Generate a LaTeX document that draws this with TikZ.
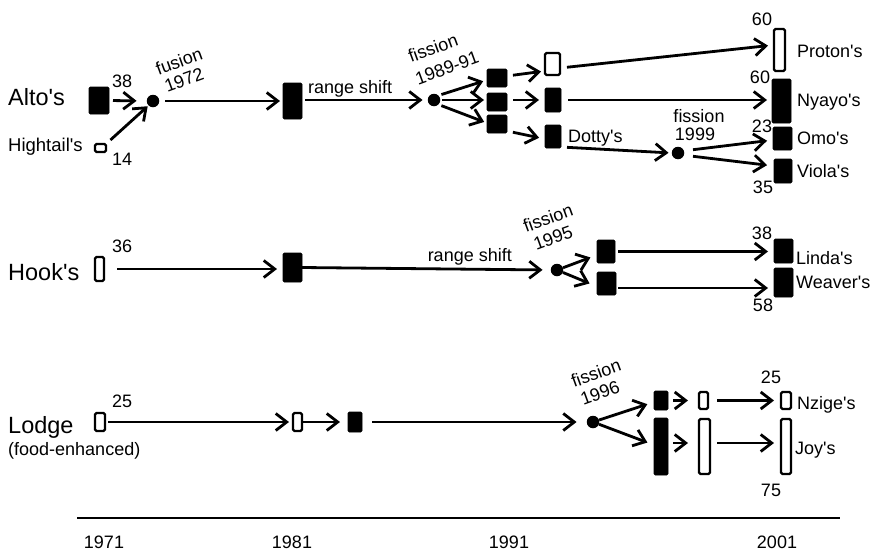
\documentclass[tikz,border=0pt]{standalone}
\usepackage{fontspec}
\setmainfont{Liberation Sans}[Ligatures=TeXOff]
\usetikzlibrary{arrows.meta,calc}
\begin{document}
\begin{tikzpicture}[x=1pt,y=-1pt,
  blk/.style={draw=black,fill=black,line width=0.6pt,rounded corners=1.2pt,inner sep=0pt,outer sep=0pt},
  opn/.style={draw=black,fill=white,line width=2.2pt,rounded corners=1.5pt,inner sep=0pt,outer sep=0pt},
  dotn/.style={circle,fill=black,inner sep=0pt,minimum size=12.5pt},
  arr/.style={-{Straight Barb[length=11pt,width=17pt]},line width=2.8pt},
  big/.style={font=\fontsize{23.5}{26}\selectfont,inner sep=0pt},
  lab/.style={font=\fontsize{18}{21}\selectfont,inner sep=0pt},
  tilted/.style={lab,rotate=20,anchor=center},
]
\useasboundingbox (0,0) rectangle (876,552);
% ---------- Alto's ----------
\node[blk,minimum width=20pt,minimum height=27pt] (A0) at (99,100.5) {};
\node[opn,minimum width=11pt,minimum height=8pt] (H0) at (100.5,148) {};
\node[dotn] (d1) at (153,101) {};
\node[blk,minimum width=19pt,minimum height=36pt] (A1) at (292.5,101) {};
\node[dotn] (d2) at (434,100) {};
\node[blk,minimum width=20pt,minimum height=18pt] (B1) at (497,78) {};
\node[blk,minimum width=20pt,minimum height=18pt] (B2) at (497,102) {};
\node[blk,minimum width=20pt,minimum height=18pt] (B3) at (497,124) {};
\node[opn,minimum width=15pt,minimum height=22pt] (C1) at (552.5,64) {};
\node[blk,minimum width=16pt,minimum height=24pt] (C2) at (553,100) {};
\node[blk,minimum width=16pt,minimum height=23pt] (C3) at (553,136.5) {};
\node[dotn] (d3) at (678,153) {};
\node[opn,minimum width=11pt,minimum height=42pt] (Pr) at (779.5,50) {};
\node[blk,minimum width=19pt,minimum height=44pt] (Ny) at (781.5,101) {};
\node[blk,minimum width=19pt,minimum height=23pt] (Om) at (782.5,138.5) {};
\node[blk,minimum width=18pt,minimum height=24pt] (Vi) at (783,171) {};
% ---------- Hook's ----------
\node[opn,minimum width=9pt,minimum height=24pt] (K0) at (99.5,269) {};
\node[blk,minimum width=19pt,minimum height=29pt] (K1) at (292.5,267.5) {};
\node[dotn] (d4) at (557,270) {};
\node[blk,minimum width=18pt,minimum height=23pt] (K2) at (606,251.5) {};
\node[blk,minimum width=19pt,minimum height=23pt] (K3) at (606.5,283.5) {};
\node[blk,minimum width=19pt,minimum height=24pt] (Li) at (783.5,251) {};
\node[blk,minimum width=19pt,minimum height=29pt] (We) at (783.5,282.5) {};
% ---------- Lodge ----------
\node[opn,minimum width=10pt,minimum height=18pt] (L0) at (100,422) {};
\node[opn,minimum width=9pt,minimum height=18pt] (L1) at (297.5,422) {};
\node[blk,minimum width=14pt,minimum height=20pt] (L2) at (355,422) {};
\node[dotn] (d5) at (593,422) {};
\node[blk,minimum width=14pt,minimum height=19pt] (L3) at (661,400.5) {};
\node[blk,minimum width=14pt,minimum height=57pt] (L4) at (661,446.5) {};
\node[opn,minimum width=9pt,minimum height=17pt] (L5) at (703.5,400.5) {};
\node[opn,minimum width=11pt,minimum height=55pt] (L6) at (704.5,446.5) {};
\node[opn,minimum width=10pt,minimum height=17pt] (Nz) at (786,400.5) {};
\node[opn,minimum width=10pt,minimum height=55pt] (Jo) at (786,446.5) {};
% ---------- arrows Alto ----------
\draw[arr,shorten <=4pt,shorten >=10pt] (A0.east) -- (d1.west);
\draw[arr,shorten <=6pt,shorten >=1pt] (H0.north east) -- (d1.225);
\draw[arr,shorten <=6pt,shorten >=3pt] (d1.east) -- (A1.west |- d1.east);
\draw[arr,shorten <=3pt,shorten >=5pt] (A1.east |- d2.west) -- (d2.west);
\draw[arr,shorten <=3pt,shorten >=4pt] (d2.45) -- ([yshift=-2pt]B1.west);
\draw[arr,shorten <=2pt,shorten >=3pt] (d2.east) -- (d2.east -| B2.west);
\draw[arr,shorten <=3pt,shorten >=3pt] (d2.-45) -- ([yshift=1pt]B3.west);
\draw[arr,shorten <=6pt,shorten >=4pt] ([yshift=2pt]B1.east) -- ([yshift=-7pt]C1.west);
\draw[arr,shorten <=6pt,shorten >=6pt] ([yshift=2pt]B2.east) -- ([yshift=2pt]B2.east -| C2.west);
\draw[arr,shorten <=6pt,shorten >=6pt] ([yshift=-7pt]B3.east) -- ([yshift=-2.5pt]C3.west);
\draw[arr,shorten <=7pt,shorten >=6pt] ([yshift=-4pt]C1.east) -- ([yshift=5pt]Pr.west);
\draw[arr,shorten <=7pt,shorten >=5pt] (C2.east) -- (C2.east -| Ny.west);
\draw[arr,shorten <=6pt,shorten >=3pt] ([yshift=-10.5pt]C3.east) -- (d3.west);
\draw[arr,shorten <=9pt,shorten >=6pt] (d3.20) -- ([yshift=-1.5pt]Om.west);
\draw[arr,shorten <=9pt,shorten >=7pt] (d3.-20) -- ([yshift=5pt]Vi.west);
% ---------- arrows Hook ----------
\draw[arr,shorten <=13pt,shorten >=6pt] (K0.east) -- (K0.east -| K1.west);
\draw[arr,shorten >=8pt] (K1.east) -- (d4.west);
\draw[arr,shorten >=7pt] (d4) -- ([yshift=-3.5pt]K2.west);
\draw[arr,shorten >=8pt] (d4) -- ([yshift=-3pt]K3.west);
\draw[arr,shorten <=3pt,shorten >=6pt] (K2.east) -- (K2.east -| Li.west);
\draw[arr,shorten <=2pt,shorten >=6pt] ([yshift=-4.5pt]K3.east) -- ([yshift=-4.5pt]K3.east -| We.west);
% ---------- arrows Lodge ----------
\draw[arr,shorten <=3pt,shorten >=4pt] (L0.east) -- (L1.west);
\draw[arr,shorten >=8pt] (L1.east) -- (L2.west);
\draw[arr,shorten <=10pt,shorten >=10pt] (L2.east) -- (d5.west);
\draw[arr,shorten >=7pt] (d5) -- ([yshift=-1.5pt]L3.west);
\draw[arr,shorten >=7pt] (d5) -- ([yshift=1.5pt]L4.west);
\draw[arr,shorten <=5pt,shorten >=11pt] (L3.east) -- (L3.east -| L5.west);
\draw[arr,shorten <=5pt,shorten >=11pt] ([yshift=3.5pt]L4.east) -- ([yshift=3.5pt]L4.east -| L6.west);
\draw[arr,shorten <=9pt,shorten >=7pt] (L5.east) -- (L5.east -| Nz.west);
\draw[arr,shorten <=7pt,shorten >=7pt] ([yshift=3.5pt]L6.east) -- ([yshift=3.5pt]L6.east -| Jo.west);
% ---------- axis ----------
\coordinate (ax1) at (77,518);
\coordinate (ax2) at (840,518);
\draw[line width=2.8pt] (ax1) -- (ax2);
% ---------- texts Alto ----------
\node[big,anchor=base west] (tAlto) at (8,105) {Alto's};
\node[lab,anchor=base west,font=\fontsize{18.5}{21}\selectfont] (tHi) at (8,151) {Hightail's};
\node[lab,anchor=base west] (n38a) at (112,87) {38};
\node[lab,anchor=base west] (n14) at (112,165) {14};
\node[tilted] (tfu1) at (179,61) {fusion};
\node[tilted] (tfu2) at (184,80) {1972};
\node[lab,anchor=base west] (trs1) at (308,93) {range shift};
\node[tilted] (tfi1) at (433,48) {fission};
\node[tilted] (tfi2) at (447,68) {1989-91};
\node[lab,anchor=base west] (tDo) at (568,142) {Dotty's};
\node[lab,anchor=base] (tfi3) at (699,122) {fission};
\node[lab,anchor=base] (tfi3b) at (695,140) {1999};
\node[lab,anchor=base] (n60a) at (762,25) {60};
\node[lab,anchor=base west] (tPr) at (797,57) {Proton's};
\node[lab,anchor=base] (n60b) at (760,83) {60};
\node[lab,anchor=base west] (tNy) at (797,106) {Nyayo's};
\node[lab,anchor=base] (n23) at (762,132) {23};
\node[lab,anchor=base west] (tOm) at (797,144) {Omo's};
\node[lab,anchor=base west] (tVi) at (797,177) {Viola's};
\node[lab,anchor=base] (n35) at (763,193) {35};
% ---------- texts Hook ----------
\node[big,anchor=base west] (tHook) at (8,280) {Hook's};
\node[lab,anchor=base west] (n36) at (112,252) {36};
\node[lab,anchor=base east] (trs2) at (512,261) {range shift};
\node[tilted] (tfi4) at (548,218) {fission};
\node[tilted] (tfi4b) at (553,238) {1995};
\node[lab,anchor=base] (n38b) at (762,239) {38};
\node[lab,anchor=base west] (tLi) at (796,264) {Linda's};
\node[lab,anchor=base west] (tWe) at (796,288) {Weaver's};
\node[lab,anchor=base] (n58) at (763,311) {58};
% ---------- texts Lodge ----------
\node[big,anchor=base west] (tLo) at (8,433) {Lodge};
\node[lab,anchor=base west] (tfood) at (8,455) {(food-enhanced)};
\node[lab,anchor=base west] (n25a) at (112,407) {25};
\node[tilted] (tfi5) at (596,373) {fission};
\node[tilted] (tfi5b) at (600,393) {1996};
\node[lab,anchor=base] (n25b) at (771,383) {25};
\node[lab,anchor=base west] (tNz) at (797,409) {Nzige's};
\node[lab,anchor=base west] (tJo) at (795,454) {Joy's};
\node[lab,anchor=base] (n75) at (771,496) {75};
% ---------- years ----------
\node[lab,anchor=base] (y71) at (104,548) {1971};
\node[lab,anchor=base] (y81) at (292,548) {1981};
\node[lab,anchor=base] (y91) at (509,548) {1991};
\node[lab,anchor=base] (y01) at (777,548) {2001};
\end{tikzpicture}
\end{document}
